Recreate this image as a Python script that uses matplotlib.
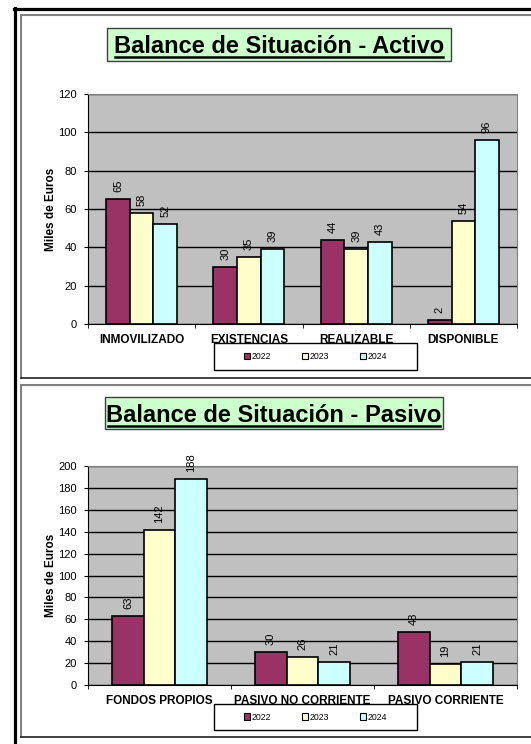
import matplotlib
matplotlib.use("Agg")
import matplotlib.pyplot as plt
import numpy as np
from matplotlib.patches import Rectangle, Patch
from matplotlib.lines import Line2D
from matplotlib.textpath import TextPath
from matplotlib.font_manager import FontProperties

plt.rcParams['font.family'] = ['Liberation Sans', 'DejaVu Sans']

W, H = 531, 744

years = ['2022', '2023', '2024']
year_colors = ['#993366', '#FFFFCC', '#CCFFFF']

activo_cats = ['INMOVILIZADO', 'EXISTENCIAS', 'REALIZABLE', 'DISPONIBLE']
activo_2022 = [65, 30, 44, 2]
activo_2023 = [58, 35, 39, 54]
activo_2024 = [52, 39, 43, 96]

pasivo_cats = ['FONDOS PROPIOS', 'PASIVO NO CORRIENTE', 'PASIVO CORRIENTE']
pasivo_2022 = [63, 30, 48]
pasivo_2023 = [142, 26, 19]
pasivo_2024 = [188, 21, 21]

fig = plt.figure(figsize=(W / 100, H / 100), dpi=100)


def fx(x):
    return x / W


def fy(y):
    return 1 - y / H


def hline(y, x0, x1, color, lw, z=5):
    fig.add_artist(Line2D([fx(x0), fx(x1)], [fy(y), fy(y)], color=color,
                          linewidth=lw, transform=fig.transFigure, zorder=z))


def vline(x, y0, y1, color, lw):
    fig.add_artist(Line2D([fx(x), fx(x)], [fy(y0), fy(y1)], color=color,
                          linewidth=lw, transform=fig.transFigure))


def box(x0, y0, x1, y1, face, edge, lw):
    fig.add_artist(Rectangle((fx(x0), fy(y1)), fx(x1) - fx(x0), fy(y0) - fy(y1),
                             facecolor=face, edgecolor=edge, linewidth=lw,
                             transform=fig.transFigure, zorder=1))


def draw_panel(rect, cats, series, ymax, title, title_box, baseline, legend_box):
    x0, y0, x1, y1 = rect
    ax = fig.add_axes([fx(x0), fy(y1), fx(x1) - fx(x0), fy(y0) - fy(y1)])
    ax.set_facecolor('#C0C0C0')
    ax.set_axisbelow(True)
    n = len(cats)
    x = np.arange(n)
    bw = 0.22
    for i, vals in enumerate(series):
        pos = x + (i - 1) * bw
        ax.bar(pos, vals, width=bw, color=year_colors[i], edgecolor='black',
               linewidth=1.2, zorder=3)
        for p, v in zip(pos, vals):
            ax.annotate(str(v), (p, v), xytext=(0, 5), textcoords='offset points',
                        rotation=90, ha='center', va='bottom', fontsize=8)
    ax.set_xlim(-0.5, n - 0.5)
    ax.set_ylim(0, ymax)
    ax.set_yticks(np.arange(0, ymax + 1, 20))
    ax.yaxis.grid(True, color='black', linewidth=1)
    ax.set_xticks(x)
    ax.set_xticklabels(cats, fontsize=8.5, fontweight='bold')
    ax.set_xticks(np.arange(n + 1) - 0.5, minor=True)
    ax.tick_params(axis='x', which='major', length=0, pad=7)
    ax.tick_params(axis='x', which='minor', length=3, direction='out')
    ax.tick_params(axis='y', length=3, direction='out', labelsize=8, pad=5)
    for s in ['top', 'right']:
        ax.spines[s].set_color('#808080')
    for s in ['left', 'bottom']:
        ax.spines[s].set_color('black')
    ax.set_ylabel('Miles de Euros', fontsize=8.5, fontweight='bold', labelpad=1)

    # title box with underlined title
    bx0, by0, bx1, by1 = title_box
    box(bx0, by0, bx1, by1, '#CCFFCC', '#404040', 1)
    cx = (bx0 + bx1) / 2
    fig.text(fx(cx), fy(baseline), title, ha='center', va='baseline',
             fontsize=17, fontweight='bold', zorder=4)
    tp = TextPath((0, 0), title, size=17 * 100 / 72,
                  prop=FontProperties(family='Liberation Sans', weight='bold'))
    tw = tp.get_extents().width
    hline(baseline + 4, cx - tw / 2, cx + tw / 2, 'black', 1.8)

    # legend
    lx0, ly0, lx1, ly1 = legend_box
    box(lx0, ly0, lx1, ly1, 'white', 'black', 1)
    handles = [Patch(facecolor=c, edgecolor='black', linewidth=0.8) for c in year_colors]
    fig.legend(handles, years, loc='center', ncol=3, frameon=False,
               bbox_to_anchor=(fx((lx0 + lx1) / 2), fy((ly0 + ly1) / 2)),
               fontsize=6.3, handlelength=0.7, handleheight=0.7,
               handletextpad=0.1, columnspacing=3.6, borderpad=0)
    return ax


# frames
vline(15, 8, 744, 'black', 2.3)
hline(9, 14, 531, 'black', 2.3)
vline(21, 14.5, 378, '#808080', 1.5)
hline(15, 21, 531, '#808080', 1.5)
hline(378, 21, 531, '#202020', 1.2)
vline(21, 385, 737, '#808080', 1.5)
hline(385, 21, 531, '#808080', 1.5)
hline(737, 21, 531, '#202020', 1.2)

draw_panel((88, 94, 517, 324), activo_cats,
           [activo_2022, activo_2023, activo_2024], 120,
           'Balance de Situación - Activo', (107, 28, 451, 61), 53,
           (214, 343, 417, 370))
draw_panel((88, 466, 517, 685), pasivo_cats,
           [pasivo_2022, pasivo_2023, pasivo_2024], 200,
           'Balance de Situación - Pasivo', (105, 397, 443, 429), 422,
           (214, 704, 417, 730))

fig.savefig('out.png', dpi=100)
